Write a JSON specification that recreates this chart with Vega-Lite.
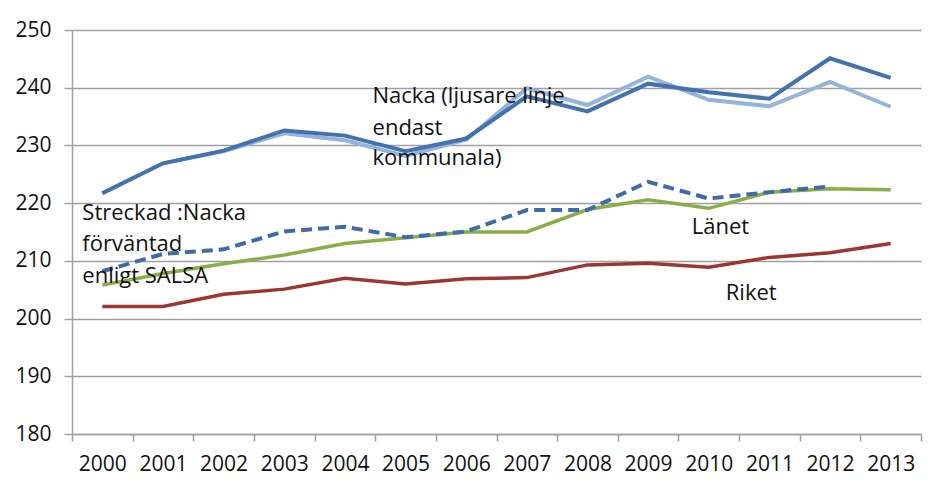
{
  "$schema": "https://vega.github.io/schema/vega-lite/v6.json",
  "autosize": {"type": "none"},
  "width": 849,
  "height": 404,
  "padding": {"left": 72, "top": 30, "right": 7, "bottom": 68},
  "background": "#ffffff",
  "config": {
    "view": {"stroke": null},
    "font": "Open Sans",
    "text": {"font": "Open Sans"}
  },
  "datasets": {
    "riket": [
      {"year": "2000", "value": 202.1}, {"year": "2001", "value": 202.1}, {"year": "2002", "value": 204.2},
      {"year": "2003", "value": 205.1}, {"year": "2004", "value": 207.0}, {"year": "2005", "value": 206.0},
      {"year": "2006", "value": 206.9}, {"year": "2007", "value": 207.1}, {"year": "2008", "value": 209.3},
      {"year": "2009", "value": 209.6}, {"year": "2010", "value": 208.9}, {"year": "2011", "value": 210.6},
      {"year": "2012", "value": 211.4}, {"year": "2013", "value": 213.0}
    ],
    "lanet": [
      {"year": "2000", "value": 205.8}, {"year": "2001", "value": 207.8}, {"year": "2002", "value": 209.5},
      {"year": "2003", "value": 211.0}, {"year": "2004", "value": 213.0}, {"year": "2005", "value": 214.0},
      {"year": "2006", "value": 215.0}, {"year": "2007", "value": 215.0}, {"year": "2008", "value": 218.9},
      {"year": "2009", "value": 220.6}, {"year": "2010", "value": 219.1}, {"year": "2011", "value": 221.9},
      {"year": "2012", "value": 222.5}, {"year": "2013", "value": 222.3}
    ],
    "salsa": [
      {"year": "2000", "value": 208.2}, {"year": "2001", "value": 211.2}, {"year": "2002", "value": 212.0},
      {"year": "2003", "value": 215.1}, {"year": "2004", "value": 215.9}, {"year": "2005", "value": 214.1},
      {"year": "2006", "value": 215.1}, {"year": "2007", "value": 218.8}, {"year": "2008", "value": 218.8},
      {"year": "2009", "value": 223.7}, {"year": "2010", "value": 220.8}, {"year": "2011", "value": 221.9},
      {"year": "2012", "value": 222.9}
    ],
    "nackaKommunala": [
      {"year": "2000", "value": 221.7}, {"year": "2001", "value": 226.9}, {"year": "2002", "value": 229.0},
      {"year": "2003", "value": 232.1}, {"year": "2004", "value": 230.9}, {"year": "2005", "value": 228.2},
      {"year": "2006", "value": 231.0}, {"year": "2007", "value": 239.9}, {"year": "2008", "value": 237.0},
      {"year": "2009", "value": 241.9}, {"year": "2010", "value": 237.9}, {"year": "2011", "value": 236.8},
      {"year": "2012", "value": 241.0}, {"year": "2013", "value": 236.7}
    ],
    "nacka": [
      {"year": "2000", "value": 221.7}, {"year": "2001", "value": 226.9}, {"year": "2002", "value": 229.1},
      {"year": "2003", "value": 232.6}, {"year": "2004", "value": 231.7}, {"year": "2005", "value": 229.0},
      {"year": "2006", "value": 231.2}, {"year": "2007", "value": 238.5}, {"year": "2008", "value": 235.9},
      {"year": "2009", "value": 240.7}, {"year": "2010", "value": 239.2}, {"year": "2011", "value": 238.1},
      {"year": "2012", "value": 245.1}, {"year": "2013", "value": 241.7}
    ],
    "labelNacka": [
      {"year": "2005", "value": 237.3, "text": "Nacka (ljusare linje"},
      {"year": "2005", "value": 231.8, "text": "endast"},
      {"year": "2005", "value": 226.6, "text": "kommunala)"}
    ],
    "labelSalsa": [
      {"year": "2000", "value": 217.0, "text": "Streckad :Nacka"},
      {"year": "2000", "value": 211.7, "text": "förväntad"},
      {"year": "2000", "value": 206.1, "text": "enligt SALSA"}
    ],
    "labelLanet": [
      {"year": "2010", "value": 214.7, "text": "Länet"}
    ],
    "labelRiket": [
      {"year": "2010", "value": 203.2, "text": "Riket"}
    ]
  },
  "encoding": {
    "x": {
      "field": "year",
      "type": "ordinal",
      "bandPosition": 0.5,
      "scale": {
        "type": "band",
        "paddingInner": 0,
        "paddingOuter": 0,
        "domain": ["2000", "2001", "2002", "2003", "2004", "2005", "2006", "2007", "2008", "2009", "2010", "2011", "2012", "2013"]
      },
      "axis": {
        "title": null,
        "tickBand": "extent",
        "grid": false,
        "domainColor": "#a0a0a0",
        "domainWidth": 1.5,
        "tickColor": "#a0a0a0",
        "tickWidth": 1.5,
        "tickSize": 7,
        "labelPadding": 12,
        "labelFont": "Open Sans",
        "labelFontSize": 21,
        "labelColor": "#111111",
        "labelAngle": 0
      }
    },
    "y": {
      "field": "value",
      "type": "quantitative",
      "scale": {"domain": [180, 250], "nice": false, "zero": false},
      "axis": {
        "title": null,
        "values": [180, 190, 200, 210, 220, 230, 240, 250],
        "grid": true,
        "gridColor": "#a0a0a0",
        "gridWidth": 1.5,
        "domainColor": "#a0a0a0",
        "domainWidth": 1.5,
        "tickColor": "#a0a0a0",
        "tickWidth": 1.5,
        "tickSize": 8,
        "labelPadding": 13,
        "labelFont": "Open Sans",
        "labelFontSize": 21,
        "labelColor": "#111111"
      }
    }
  },
  "layer": [
    {
      "data": {"name": "riket"},
      "mark": {"type": "line", "color": "#9c3633", "strokeWidth": 3.5},
      "encoding": {}
    },
    {
      "data": {"name": "lanet"},
      "mark": {"type": "line", "color": "#8aae47", "strokeWidth": 3.5},
      "encoding": {}
    },
    {
      "data": {"name": "salsa"},
      "mark": {"type": "line", "color": "#3f6ca8", "strokeWidth": 4, "strokeDash": [11, 6]},
      "encoding": {}
    },
    {
      "data": {"name": "nackaKommunala"},
      "mark": {"type": "line", "color": "#94b4da", "strokeWidth": 4},
      "encoding": {}
    },
    {
      "data": {"name": "nacka"},
      "mark": {"type": "line", "color": "#4372ae", "strokeWidth": 4},
      "encoding": {}
    },
    {
      "data": {"name": "labelNacka"},
      "mark": {"type": "text", "align": "left", "baseline": "alphabetic", "dx": -33, "fontSize": 22, "color": "#111111"},
      "encoding": {"text": {"field": "text"}}
    },
    {
      "data": {"name": "labelSalsa"},
      "mark": {"type": "text", "align": "left", "baseline": "alphabetic", "dx": -20, "fontSize": 22, "color": "#111111"},
      "encoding": {"text": {"field": "text"}}
    },
    {
      "data": {"name": "labelLanet"},
      "mark": {"type": "text", "align": "left", "baseline": "alphabetic", "dx": -17, "fontSize": 22, "color": "#111111"},
      "encoding": {"text": {"field": "text"}}
    },
    {
      "data": {"name": "labelRiket"},
      "mark": {"type": "text", "align": "left", "baseline": "alphabetic", "dx": 17, "fontSize": 22, "color": "#111111"},
      "encoding": {"text": {"field": "text"}}
    }
  ]
}
